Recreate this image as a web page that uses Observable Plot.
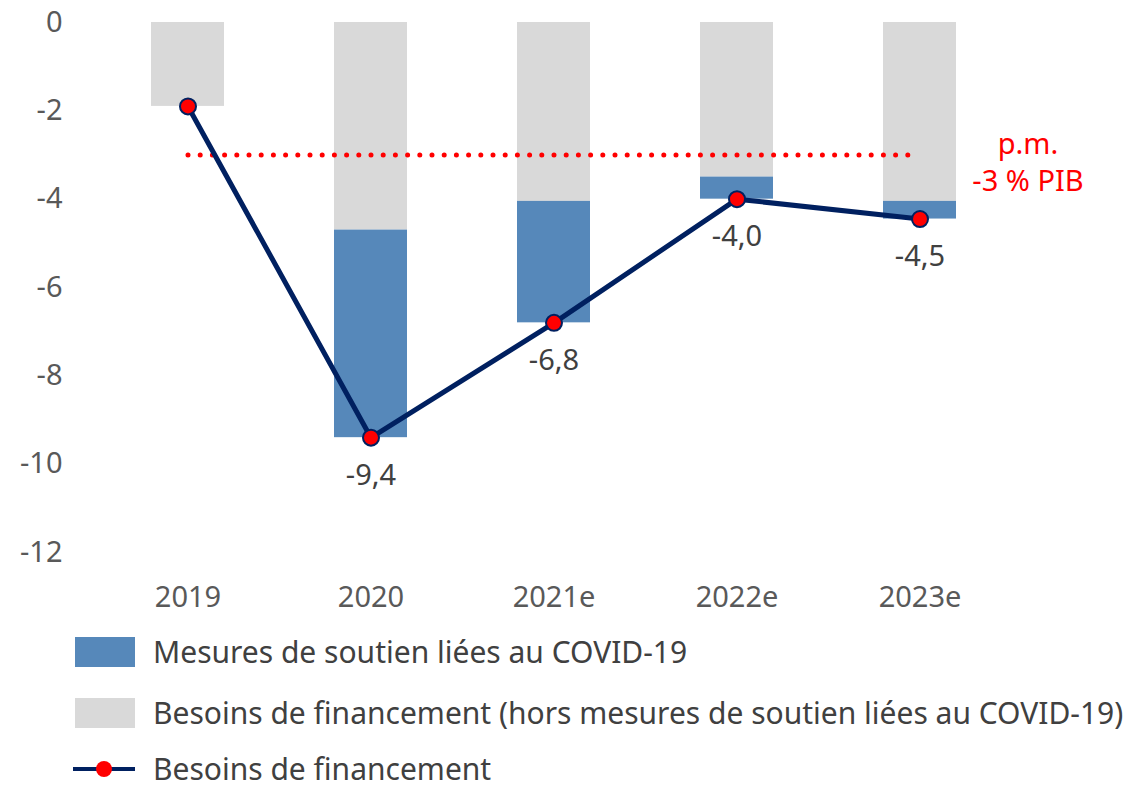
<!DOCTYPE html>
<html><head><meta charset="utf-8">
<script src="https://cdn.jsdelivr.net/npm/d3@7"></script>
<script src="https://cdn.jsdelivr.net/npm/@observablehq/plot@0.6"></script>
<style>
body{margin:0;background:#fff;font-family:"Noto Sans","Open Sans",sans-serif;overflow:hidden;}
#legend{margin:0;}
.row{height:61px;display:flex;align-items:center;font-size:30px;color:#404040;}
.row span{line-height:1;}
.sw{width:60px;height:30px;margin-left:75px;margin-right:18px;}
</style></head><body>
<div id="chart"></div>
<div id="legend"></div>
<script>
const years = ["2019","2020","2021e","2022e","2023e"];
const besoinsHors = [-1.9, -4.7, -4.05, -3.5, -4.05];
const covid = [0, -4.7, -2.75, -0.5, -0.4];
const total = [-1.9, -9.4, -6.8, -4.0, -4.45];
const labels = ["", "-9,4", "-6,8", "-4,0", "-4,5"];
const refLevel = -3;
const yTicks = [0,-2,-4,-6,-8,-10,-12];
const legendNames = ["Mesures de soutien liées au COVID-19","Besoins de financement (hors mesures de soutien liées au COVID-19)","Besoins de financement"];

const greyC = "#d9d9d9", blueC = "#5688ba", navy = "#002060", red = "#ff0000";
const rows = years.map((y,i)=>({year:y, grey:besoinsHors[i], top:besoinsHors[i]+covid[i], total:total[i], label:labels[i]}));

const chart = Plot.plot({
  width:1125, height:621,
  marginLeft:95, marginRight:113, marginTop:22, marginBottom:69,
  style:{fontFamily:"'Noto Sans','Open Sans',sans-serif", fontSize:"29px", color:"#595959", background:"#fff"},
  x:{domain:years, paddingInner:0.6, paddingOuter:0.3, label:null, tickSize:0, tickPadding:34},
  y:{domain:[-12,0], ticks:yTicks, label:null, tickSize:0, tickPadding:33, tickFormat:d=>String(d)},
  marks:[
    Plot.barY(rows,{x:"year", y1:0, y2:"grey", fill:greyC}),
    Plot.barY(rows.filter(d=>d.top!==d.grey),{x:"year", y1:"grey", y2:"top", fill:blueC}),
    Plot.lineY([{x:years[0],y:refLevel},{x:years[4],y:refLevel}],{x:"x",y:"y",stroke:red,strokeWidth:5,strokeDasharray:"0 12.2",strokeLinecap:"round"}),
    Plot.text([{x:years[4],y:refLevel,t:"p.m.\n-3 % PIB"}],{x:"x",y:"y",text:"t",dx:108,dy:6,fill:red,fontSize:29,lineHeight:1.25}),
    Plot.lineY(rows,{x:"year", y:"total", stroke:navy, strokeWidth:5}),
    Plot.dot(rows,{x:"year", y:"total", r:8, fill:red, stroke:navy, strokeWidth:2}),
    Plot.text(rows,{x:"year", y:"total", text:"label", dy:38, fill:"#404040", fontSize:29})
  ]
});
document.getElementById("chart").appendChild(chart);

const lg = document.getElementById("legend");
const sw = [blueC, greyC];
legendNames.forEach((n,i)=>{
  const r = document.createElement("div"); r.className="row";
  if(i===2){ r.style.height="41px"; r.style.alignItems="flex-end"; r.style.paddingBottom="6px"; }
  if(i<2){
    const s=document.createElement("div"); s.className="sw"; s.style.background=sw[i]; r.appendChild(s);
  } else {
    const ns="http://www.w3.org/2000/svg";
    const svg=document.createElementNS(ns,"svg"); svg.setAttribute("width","62"); svg.setAttribute("height","30");
    svg.style.marginLeft="73px"; svg.style.marginRight="18px";
    const l=document.createElementNS(ns,"line"); l.setAttribute("x1",0);l.setAttribute("x2",62);l.setAttribute("y1",15);l.setAttribute("y2",15);l.setAttribute("stroke",navy);l.setAttribute("stroke-width",4);
    const c=document.createElementNS(ns,"circle"); c.setAttribute("cx",31);c.setAttribute("cy",15);c.setAttribute("r",8);c.setAttribute("fill",red);
    svg.appendChild(l); svg.appendChild(c); r.appendChild(svg);
  }
  const t=document.createElement("span"); t.textContent=n; r.appendChild(t);
  lg.appendChild(r);
});
</script>
</body></html>
